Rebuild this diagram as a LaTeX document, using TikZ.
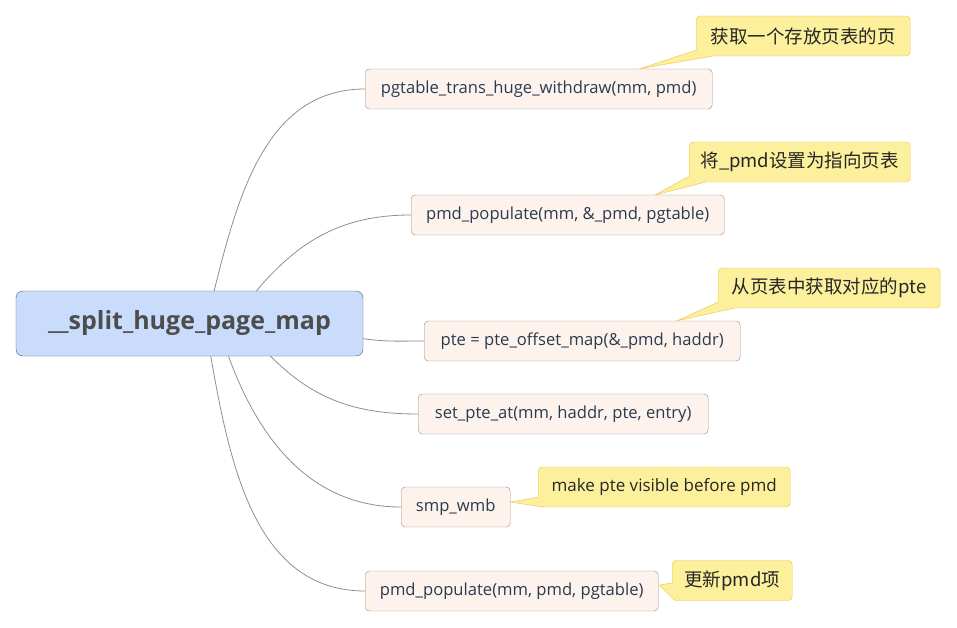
\documentclass[tikz,border=0pt]{standalone}
\usepackage{fontspec}
\setmainfont{Open Sans}
\newfontfamily\cjk{Noto Sans CJK SC}
\usepackage{tikz}
\usetikzlibrary{calc}

\definecolor{rootfill}{HTML}{C9DCFC}
\definecolor{rootdraw}{HTML}{4B5B7D}
\definecolor{roottext}{HTML}{4D4D4D}
\definecolor{topicfill}{HTML}{FDF3EC}
\definecolor{topicdraw}{HTML}{968D88}
\definecolor{topictext}{HTML}{2A3A4F}
\definecolor{notefill}{HTML}{FCF09C}
\definecolor{notedraw}{HTML}{F0BE48}
\definecolor{branchgray}{HTML}{8F8F8F}

\begin{document}
\begin{tikzpicture}[x=1pt,y=1pt,
    root/.style={draw=rootdraw,fill=rootfill,rounded corners=7pt,minimum width=347pt,minimum height=65pt,
      text=roottext,font=\bfseries\fontsize{25}{30}\selectfont},
    topic/.style={draw=topicdraw,fill=topicfill,rounded corners=4pt,minimum height=40pt,anchor=west,
      text=topictext,font=\fontsize{16.6}{20}\selectfont},
    note/.style={draw=notedraw,fill=notefill,rounded corners=4pt,minimum height=40pt,anchor=west,
      text=black!85,font=\fontsize{17}{20}\selectfont},
    branch/.style={draw=branchgray,line width=0.8pt}]
    \useasboundingbox (0,0) rectangle (957,-628);

    % central topic
    \node[root] (root) at (189.5,-323.5) {\_\_split\_huge\_page\_map};

    % subtopics
    \node[topic,minimum width=347pt] (withdraw) at (365,-89) {pgtable\_trans\_huge\_withdraw(mm, pmd)};
    \node[topic,minimum width=313pt] (populate1) at (411,-215) {pmd\_populate(mm, \&\_pmd, pgtable)};
    \node[topic,minimum width=316pt] (offsetmap) at (424,-341) {pte = pte\_offset\_map(\&\_pmd, haddr)};
    \node[topic,minimum width=290pt] (setpte) at (418,-414) {set\_pte\_at(mm, haddr, pte, entry)};
    \node[topic,minimum width=109pt] (wmb) at (401,-507) {smp\_wmb};
    \node[topic,minimum width=293pt] (populate2) at (365,-591) {pmd\_populate(mm, pmd, pgtable)};

    % callouts
    \node[note,minimum width=214pt] (fetch) at (696,-36) {\cjk\fontsize{18.5}{22}\selectfont 获取一个存放页表的页};
    \node[note,minimum width=221pt] (point) at (689,-162) {\cjk\fontsize{18.5}{22}\selectfont 将\_pmd设置为指向页表};
    \node[note,minimum width=222pt] (lookup) at (718,-288) {\cjk\fontsize{18.5}{22}\selectfont 从页表中获取对应的pte};
    \node[note,minimum width=252pt] (visible) at (538,-487) {make pte visible before pmd};
    \node[note,minimum width=120pt] (update) at (672,-580.5) {\cjk\fontsize{18.5}{22}\selectfont 更新pmd项};

    % branches
    \draw[branch] (root.53) to[out=76,in=180] (withdraw.west);
    \draw[branch] (root.26) to[out=50,in=180] (populate1.west);
    \draw[branch] (root.-5) to[out=-8,in=180] (offsetmap.west);
    \draw[branch] (root.-22) to[out=-45,in=180] (setpte.west);
    \draw[branch] (root.-40) to[out=-70,in=180] (wmb.west);
    \draw[branch] (root.-57) to[out=-80,in=180] (populate2.west);

    % callout pointers
    \fill[notefill] ($(fetch.south west)+(0,6)$) -- ($(withdraw.north west)!0.79!(withdraw.north east)$)
      -- ($(fetch.south west)+(16,0)$) -- ($(fetch.south west)+(8,6)$) -- cycle;
    \draw[notedraw] ($(fetch.south west)+(0,6)$) -- ($(withdraw.north west)!0.79!(withdraw.north east)$)
      -- ($(fetch.south west)+(16,0)$);
    \fill[notefill] ($(point.south west)+(0,6)$) -- ($(populate1.north west)!0.78!(populate1.north east)$)
      -- ($(point.south west)+(16,0)$) -- ($(point.south west)+(8,6)$) -- cycle;
    \draw[notedraw] ($(point.south west)+(0,6)$) -- ($(populate1.north west)!0.78!(populate1.north east)$)
      -- ($(point.south west)+(16,0)$);
    \fill[notefill] ($(lookup.south west)+(0,6)$) -- ($(offsetmap.north west)!0.8!(offsetmap.north east)$)
      -- ($(lookup.south west)+(16,0)$) -- ($(lookup.south west)+(8,6)$) -- cycle;
    \draw[notedraw] ($(lookup.south west)+(0,6)$) -- ($(offsetmap.north west)!0.8!(offsetmap.north east)$)
      -- ($(lookup.south west)+(16,0)$);
    \fill[notefill] ($(visible.south west)+(0,10)$) -- ($(wmb.east)+(0,5)$)
      -- ($(visible.south west)+(6,0)$) -- ($(visible.south west)+(8,8)$) -- cycle;
    \draw[notedraw] ($(visible.south west)+(0,10)$) -- ($(wmb.east)+(0,5)$)
      -- ($(visible.south west)+(6,0)$);
    \fill[notefill] ($(update.west)+(0,-2.5)$) -- ($(populate2.east)+(1,6)$)
      -- ($(update.south west)+(0,3)$) -- ($(update.south west)+(6,8)$) -- cycle;
    \draw[notedraw] ($(update.west)+(0,-2.5)$) -- ($(populate2.east)+(1,6)$)
      -- ($(update.south west)+(0,3)$);
\end{tikzpicture}
\end{document}
